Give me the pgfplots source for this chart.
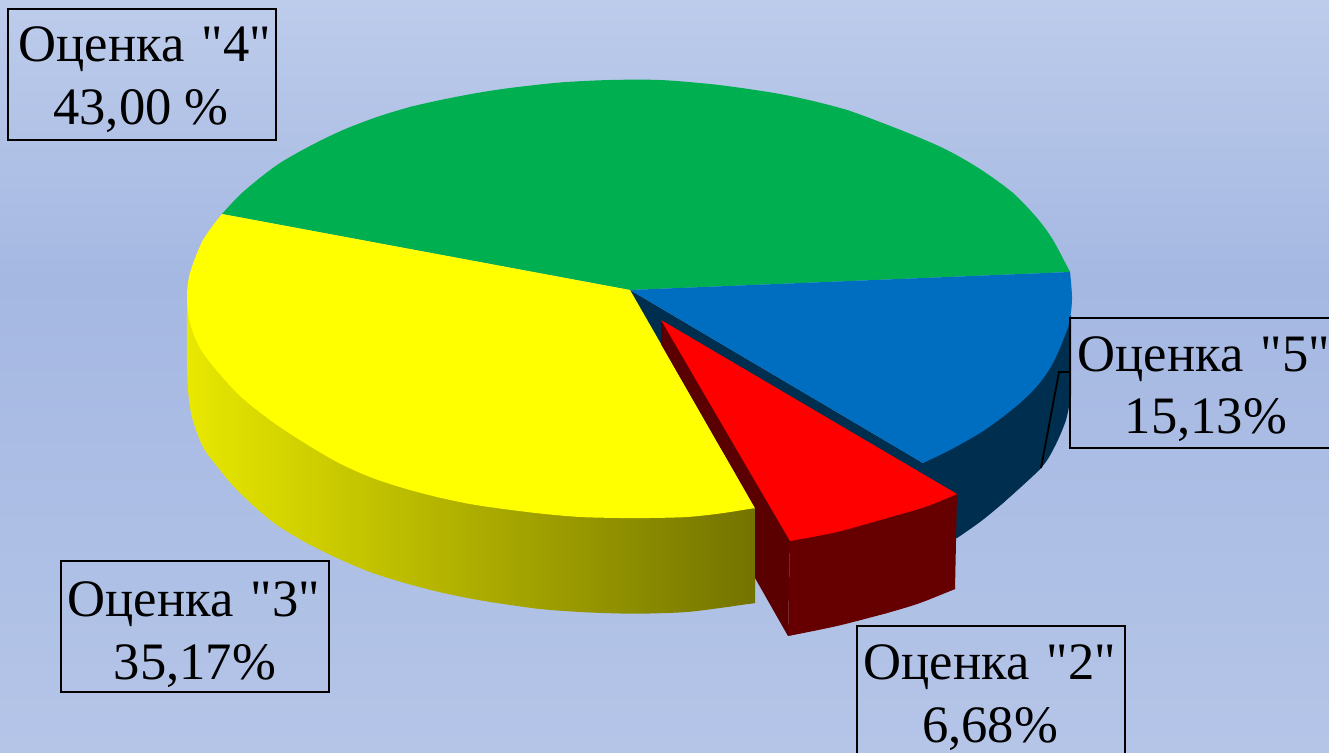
\documentclass[border=0pt]{standalone}
\usepackage{fontspec}
\setmainfont{Liberation Serif}[Ligatures=TeXOff]
\usepackage{pgfplots}
\pgfplotsset{compat=1.18}
\definecolor{bgtop}{RGB}{189,204,235}
\definecolor{bgmid}{RGB}{165,184,226}
\definecolor{bgbot}{RGB}{181,197,232}
\definecolor{pgreen}{RGB}{0,176,80}
\definecolor{pblue}{RGB}{0,110,192}
\definecolor{pblued}{RGB}{0,46,78}
\definecolor{pyellow}{RGB}{255,255,0}
\definecolor{pred}{RGB}{255,0,0}
\definecolor{ylight}{RGB}{232,232,0}
\definecolor{ydark}{RGB}{115,115,0}
\definecolor{rfront}{RGB}{102,0,0}
\definecolor{rleft}{RGB}{90,0,0}
\tikzset{lab/.style={anchor=base,inner sep=0pt,font=\fontsize{26.3}{30}\selectfont}}
\begin{document}
\begin{tikzpicture}
\begin{axis}[scale only axis,width=664.5pt,height=376.5pt,
  xmin=0,xmax=1329,ymin=0,ymax=753,y dir=reverse,hide axis,no markers]
% background
\addplot[draw=none,top color=bgtop,bottom color=bgmid] coordinates {(0,0)(1329,0)(1329,280)(0,280)} --cycle;
\addplot[draw=none,top color=bgmid,bottom color=bgbot] coordinates {(0,280)(1329,280)(1329,753)(0,753)} --cycle;
% blue side: rim arc, then the straight part
\addplot[draw=none,fill=pblued,smooth] coordinates {(1071,395)(1066,420)(1055,446)(1041,468)(1003,503)(980,522)(957,538)} --cycle;
\addplot[draw=none,fill=pblued] coordinates {(630,290)(923,463)(1071,315)(1071,395)(1041,468)(1003,503)(957,538)(800,560)(700,420)} --cycle;
% green top
\addplot[draw=none,fill=pgreen,smooth] coordinates {(222,214)(243,192)(277,165)(310,146)(343,130)(377,117)(410,107)(443,99.5)(477,93)(510,88)(560,82.5)(610,80)(660,80)(710,84)(745,88.5)(780,94)(813,101)(847,110)(880,122)(913,135)(947,150)(980,169)(1013,193)(1037,218)(1053,240)(1070,272)} --cycle;
\addplot[draw=none,fill=pgreen] coordinates {(630,290)(222,214)(410,107)(610,80)(847,110)(1013,193)(1070,272)} --cycle;
% blue top
\addplot[draw=none,fill=pblue,smooth] coordinates {(1070,272)(1072,300)(1068,327)(1053,363)(1038,385)(1020,403)(1000,419)(980,433)(950,450)(923,463)} --cycle;
\addplot[draw=none,fill=pblue] coordinates {(630,290)(1070,272)(1068,327)(1020,403)(923,463)} --cycle;
% yellow side
\addplot[draw=none,left color=ylight,right color=ydark,smooth] coordinates {(187,313)(187,360)(188,390)(192,417)(203,447)(220,470)(237,490)(270,520)(303,541)(337,558)(370,572)(403,582.5)(437,591.5)(470,598.5)(500,603.5)(540,609)(580,612)(620,613.5)(650,613.5)(687,612)(720,608)(755,603)} --cycle;
\addplot[draw=none,left color=ylight,right color=ydark] coordinates {(187,297)(755,508)(755,603)(620,613)(403,582)(237,490)(187,313)} --cycle;
% yellow top
\addplot[draw=none,fill=pyellow,smooth] coordinates {(222,214)(203,240)(190,273)(187,297)(190,323)(203,353)(237,393)(270,420)(303,442)(337,462)(370,477)(403,488)(437,497)(470,504)(500,508.5)(540,513.5)(580,517)(620,518)(650,518)(687,517)(720,513.5)(755,508)} --cycle;
\addplot[draw=none,fill=pyellow] coordinates {(630,290)(222,214)(187,297)(270,420)(437,497)(620,518)(755,508)} --cycle;
% red slice
\addplot[draw=none,fill=rleft] coordinates {(661,320)(790,541)(788,636)(755,578)(755,508)(661,344)} --cycle;
\addplot[draw=none,fill=rfront,smooth] coordinates {(955,589)(920,603)(887,613)(837,626)(788,636)} --cycle;
\addplot[draw=none,fill=rfront] coordinates {(790,541)(957,494)(955,589)(887,613)(788,636)} --cycle;
\addplot[draw=none,fill=pred,smooth] coordinates {(957,494)(925,507)(887,518)(837,532)(790,541)} --cycle;
\addplot[draw=none,fill=pred] coordinates {(661,320)(957,494)(887,518)(790,541)} --cycle;
% leader line
\addplot[black,line width=0.9pt] coordinates {(1070,372)(1059,372)(1041,468)};
% label boxes
\addplot[black,line width=1pt] coordinates {(8,9)(276,9)(276,140)(8,140)} --cycle;
\addplot[black,line width=1pt] coordinates {(1070,318)(1335,318)(1335,448)(1070,448)} --cycle;
\addplot[black,line width=1pt] coordinates {(61,561)(329,561)(329,692)(61,692)} --cycle;
\addplot[black,line width=1pt] coordinates {(857,626)(1125,626)(1125,760)(857,760)} --cycle;
\node[lab] at (axis cs:145,62) {Оценка\hspace{.33em}"4"};
\node[lab] at (axis cs:141,125) {43,00 \%};
\node[lab] at (axis cs:1204,372) {Оценка\hspace{.33em}"5"};
\node[lab] at (axis cs:1206,434) {15,13\%};
\node[lab] at (axis cs:194,617) {Оценка\hspace{.33em}"3"};
\node[lab] at (axis cs:195,679) {35,17\%};
\node[lab] at (axis cs:990,680) {Оценка\hspace{.33em}"2"};
\node[lab] at (axis cs:990,742) {6,68\%};
\end{axis}
\end{tikzpicture}
\end{document}
